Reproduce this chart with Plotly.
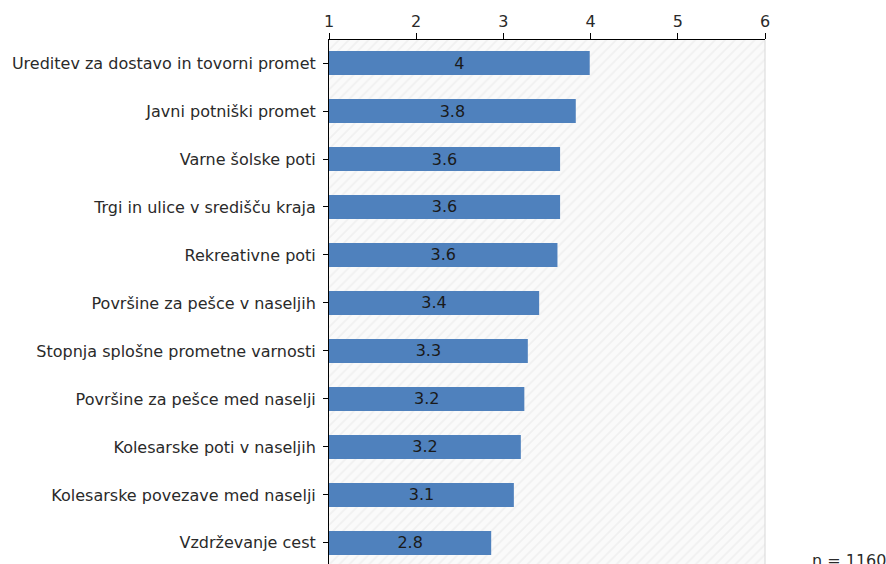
import plotly.graph_objects as go

categories = [
    "Ureditev za dostavo in tovorni promet",
    "Javni potniški promet",
    "Varne šolske poti",
    "Trgi in ulice v središču kraja",
    "Rekreativne poti",
    "Površine za pešce v naseljih",
    "Stopnja splošne prometne varnosti",
    "Površine za pešce med naselji",
    "Kolesarske poti v naseljih",
    "Kolesarske povezave med naselji",
    "Vzdrževanje cest",
]
values = [3.99, 3.83, 3.65, 3.65, 3.62, 3.41, 3.28, 3.24, 3.20, 3.12, 2.86]
labels = ["4", "3.8", "3.6", "3.6", "3.6", "3.4", "3.3", "3.2", "3.2", "3.1", "2.8"]
scale_min, scale_max = 1, 6
tick_vals = [1, 2, 3, 4, 5, 6]
n_text = "n = 1160"

FONT = "DejaVu Sans"
FS = 16

fig = go.Figure()

# hatched background band
fig.add_trace(go.Bar(
    y=categories, x=[scale_max - scale_min] * len(categories), base=scale_min,
    orientation="h", width=1.0,
    marker=dict(color="rgba(0,0,0,0)", line=dict(width=0),
                pattern=dict(shape="/", fgcolor="#e6e6e6", bgcolor="#fafafa",
                             size=7, solidity=0.25)),
    hoverinfo="skip", showlegend=False,
))

fig.add_trace(go.Bar(
    y=categories, x=[v - scale_min for v in values], base=scale_min,
    orientation="h", width=0.5,
    marker=dict(color="#4f81bd", line=dict(width=0)),
    text=labels, textposition="inside", insidetextanchor="middle",
    textangle=0, constraintext="none",
    textfont=dict(family=FONT, size=FS, color="#1a1a1a"),
    showlegend=False,
))

fig.update_layout(
    width=886, height=564,
    margin=dict(l=329, r=121, t=40, b=0, autoexpand=False),
    paper_bgcolor="white", plot_bgcolor="#fafafa",
    barmode="overlay",
    font=dict(family=FONT, size=FS, color="#2a2a2a"),
    xaxis=dict(
        side="top", range=[scale_min, scale_max], tickvals=tick_vals,
        showgrid=True, gridcolor="#dddddd", griddash="dash", gridwidth=1,
        showline=True, linecolor="black", linewidth=1,
        ticks="outside", ticklen=6, tickcolor="black",
        zeroline=False, automargin=False,
        tickfont=dict(size=FS, color="#2a2a2a"),
    ),
    yaxis=dict(
        autorange=False, range=[len(categories) - 0.56, -0.48],
        showgrid=True, gridcolor="#dddddd", griddash="dash", gridwidth=1,
        showline=True, linecolor="black", linewidth=1,
        ticks="outside", ticklen=5, tickcolor="black",
        ticklabelstandoff=4,
        automargin=False,
        tickfont=dict(size=FS, color="#2a2a2a"),
    ),
    shapes=[dict(type="line", xref="paper", yref="paper", x0=1, x1=1, y0=0, y1=1,
                 line=dict(color="#d8d8d8", width=1))],
    annotations=[dict(text=n_text, xref="paper", yref="paper", x=1, y=0,
                      xanchor="left", yanchor="top", xshift=45, yshift=15,
                      showarrow=False, font=dict(family=FONT, size=FS, color="#2a2a2a"))],
)

fig.write_html(
    "out.html",
    config={"displayModeBar": False},
    post_script="document.body.style.margin='0';document.body.style.overflow='hidden';",
)
